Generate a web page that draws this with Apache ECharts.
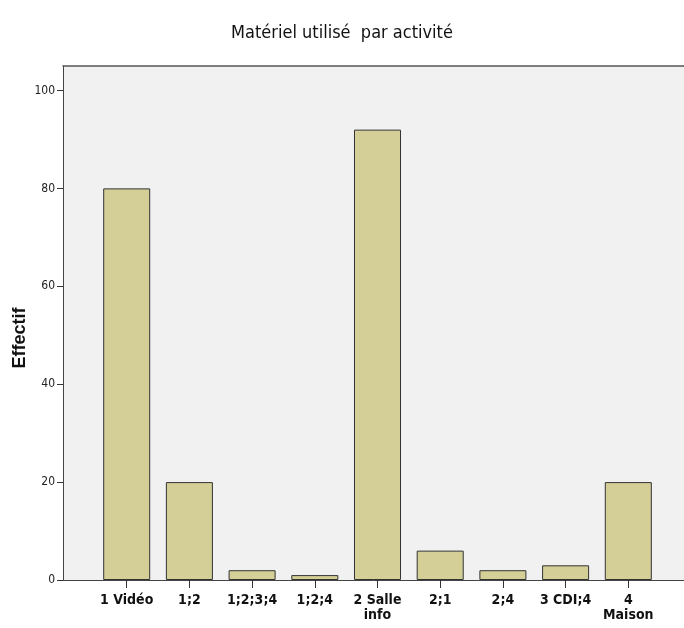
<!DOCTYPE html>
<html><head><meta charset="utf-8">
<script src="https://cdn.jsdelivr.net/npm/echarts@6/dist/echarts.min.js"></script>
<style>html,body{margin:0;padding:0;background:#fff}#c{width:684px;height:628px}</style>
</head><body><div id="c"></div>
<script>
const categories = ['1 Vidéo', '1;2', '1;2;3;4', '1;2;4', '2 Salle\ninfo', '2;1', '2;4', '3 CDI;4', '4\nMaison'];
const values = [80, 20, 2, 1, 92, 6, 2, 3, 20];
const yTicks = [0, 20, 40, 60, 80, 100];
const titleText = 'Matériel utilisé  par activité';
const yName = 'Effectif';

const narrow = "'DejaVu Sans Condensed', 'Liberation Sans Narrow', sans-serif";
const chart = echarts.init(document.getElementById('c'), null, {renderer: 'canvas'});
chart.setOption({
  animation: false,
  title: {
    text: titleText, left: 'center', top: 19,
    textStyle: {fontFamily: narrow, fontSize: 18, fontWeight: 'normal', color: '#111'}
  },
  graphic: [{
    type: 'text', x: 20, y: 338, rotation: Math.PI / 2,
    style: {text: yName, align: 'center', verticalAlign: 'middle',
      font: "bold 18px 'Liberation Sans', Arial, sans-serif", fill: '#111'}
  }],
  grid: [
    {left: 63, top: 66, right: 0, bottom: 48, show: true, backgroundColor: '#f0f1f0', borderWidth: 0},
    {left: 95.35, top: 66, right: 24.35, bottom: 48}
  ],
  xAxis: [
    {gridIndex: 0, type: 'value', min: 0, max: 1, position: 'bottom',
     axisLine: {show: true, lineStyle: {color: '#444', width: 1}},
     axisTick: {show: false}, axisLabel: {show: false}, splitLine: {show: false}},
    {gridIndex: 0, type: 'value', min: 0, max: 1, position: 'top',
     axisLine: {show: true, lineStyle: {color: '#555', width: 1.5}},
     axisTick: {show: false}, axisLabel: {show: false}, splitLine: {show: false}},
    {gridIndex: 1, type: 'category', data: categories,
     axisLine: {show: false},
     axisTick: {show: true, alignWithLabel: true, length: 8, lineStyle: {color: '#333', width: 1}},
     axisLabel: {interval: 0, margin: 13, fontFamily: narrow, fontSize: 14, fontWeight: 'bold', color: '#111', lineHeight: 15}
    }
  ],
  yAxis: [
    {gridIndex: 0, type: 'value', min: 0, max: 105,
     axisLine: {show: true, lineStyle: {color: '#444', width: 1}},
     axisTick: {show: true, length: 6, customValues: yTicks, lineStyle: {color: '#333'}},
     axisLabel: {customValues: yTicks, margin: 8, fontFamily: narrow, fontSize: 12, color: '#222'},
     splitLine: {show: false}
    },
    {gridIndex: 1, type: 'value', min: 0, max: 105, show: false, splitLine: {show: false}}
  ],
  series: [{
    type: 'bar', xAxisIndex: 2, yAxisIndex: 1, data: values,
    barWidth: '75%',
    itemStyle: {color: '#d4cf97', borderColor: '#333', borderWidth: 1}
  }]
});
</script></body></html>
